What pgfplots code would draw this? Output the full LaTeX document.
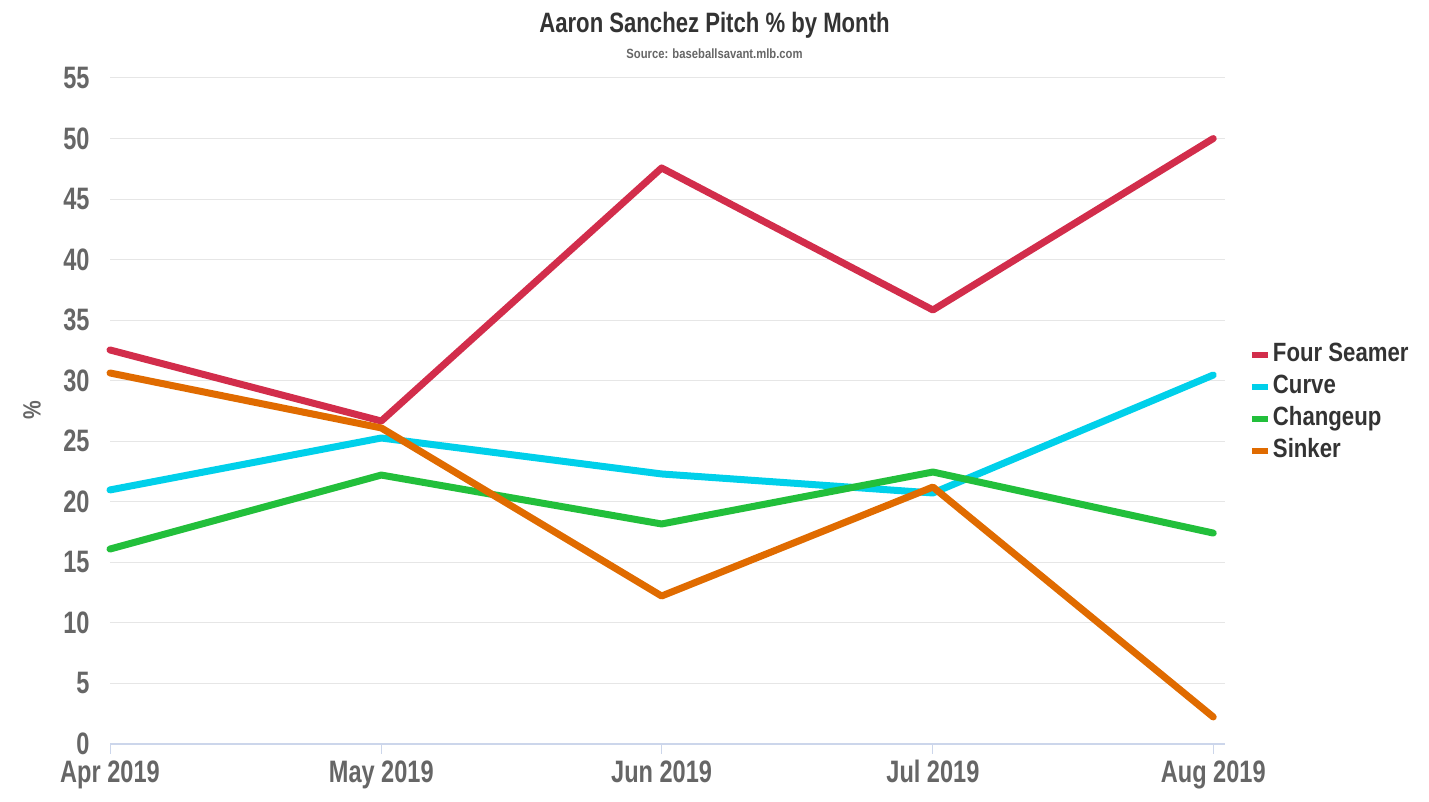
\documentclass[border=0pt]{standalone}
\usepackage{fontspec}
\setmainfont[FakeStretch=0.84]{Liberation Sans}
\newfontfamily\tickfont[FakeStretch=0.76]{Liberation Sans}
\newfontfamily\titlefont[FakeStretch=0.79]{Liberation Sans}
\newfontfamily\legfont[FakeStretch=0.84]{Liberation Sans}
\usepackage{pgfplots}
\pgfplotsset{compat=1.18}
\definecolor{cFour}{HTML}{D22D4B}
\definecolor{cCurve}{HTML}{00D0EA}
\definecolor{cChange}{HTML}{22BF3B}
\definecolor{cSinker}{HTML}{E06B00}
\definecolor{gridc}{HTML}{E6E6E6}
\definecolor{axisc}{HTML}{CCD6EB}
\definecolor{tickc}{HTML}{666666}
\definecolor{titlec}{HTML}{333333}
\begin{document}
\begin{tikzpicture}[x=0.5pt,y=0.5pt]
\useasboundingbox (0,0) rectangle (1429,802);
\begin{axis}[
  at={(55pt,29pt)}, anchor=south west,
  scale only axis, width=557.5pt, height=333pt,
  xmin=0, xmax=123.3, ymin=0, ymax=55,
  clip=false,
  axis x line*=bottom, axis y line*=left,
  x axis line style={draw=axisc, line width=0.6pt, -},
  y axis line style={draw=none, -},
  xtick={0,30,61,91,122},
  xticklabels={Apr 2019,May 2019,Jun 2019,Jul 2019,Aug 2019},
  ytick={0,5,...,55},
  ymajorgrids, grid style={draw=gridc, line width=0.5pt},
  tick align=outside, major tick length=5pt,
  xtick style={draw=axisc, line width=0.5pt},
  ytick style={draw=none},
  /pgf/number format/assume math mode=true,
  ticklabel style={font=\tickfont\fontsize{15.5}{16}\selectfont\bfseries, text=tickc},
  xticklabel style={anchor=north, inner sep=0pt, yshift=-3pt},
  yticklabel style={anchor=east, inner sep=0pt, xshift=-5pt},
  legend style={at={(1.0215,0.512)}, anchor=west, draw=none, fill=none,
    inner sep=0pt, outer sep=0pt,
    font=\legfont\fontsize{13.2}{14}\selectfont\bfseries, text=titlec,
    row sep=4.5pt, column sep=1pt,
    nodes={inner sep=0pt, text height=9pt, text depth=2.5pt}},
  legend cell align=left,
  legend image code/.code={\draw[line width=3pt, line cap=butt] (0pt,0pt) -- (8pt,0pt);},
  every axis plot/.append style={line width=3.5pt, line cap=round, line join=round},
]
\addplot[cFour] coordinates {(0,32.54) (30,26.67) (61,47.57) (91,35.84) (122,50.0)};
\addlegendentry{Four Seamer}
\addplot[cCurve] coordinates {(0,20.98) (30,25.27) (61,22.30) (91,20.73) (122,30.47)};
\addlegendentry{Curve}
\addplot[cChange] coordinates {(0,16.10) (30,22.21) (61,18.17) (91,22.46) (122,17.42)};
\addlegendentry{Changeup}
\addplot[cSinker] coordinates {(0,30.64) (30,26.10) (61,12.22) (91,21.22) (122,2.23)};
\addlegendentry{Sinker}
\end{axis}
\node[font=\titlefont\fontsize{14}{15}\selectfont\bfseries, text=titlec] at (714.5,777) {Aaron Sanchez Pitch \% by Month};
\node[font=\fontsize{6.7}{7}\selectfont\bfseries, text=tickc] at (714.5,748) {Source: baseballsavant.mlb.com};
\node[font=\fontsize{12.5}{13}\selectfont\bfseries, text=tickc, rotate=90] at (32,392) {\%};
\end{tikzpicture}
\end{document}
